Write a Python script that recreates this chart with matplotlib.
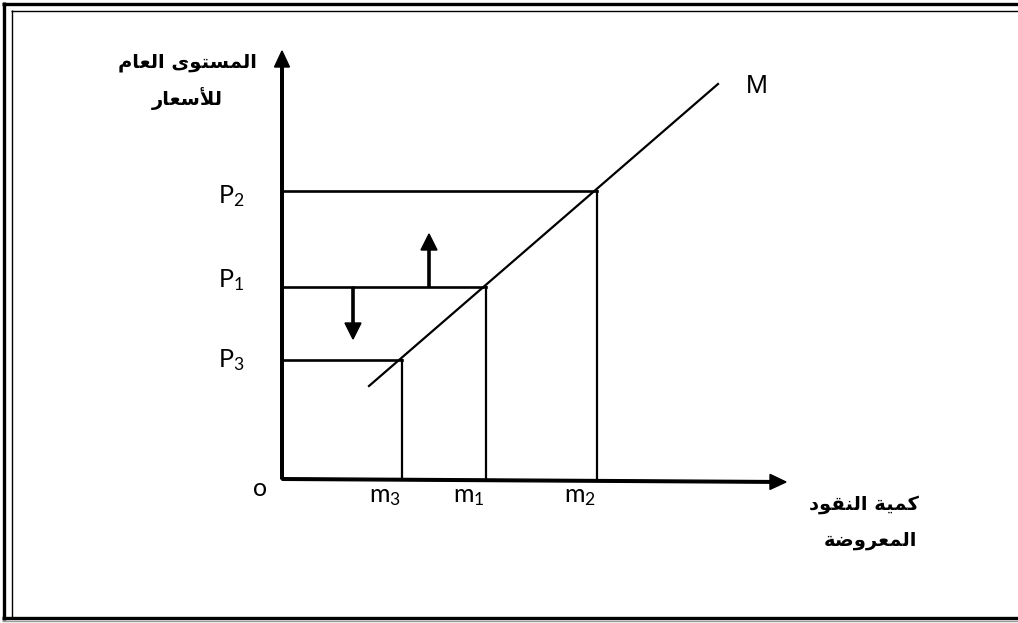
import matplotlib
matplotlib.use("Agg")
import matplotlib.pyplot as plt
from matplotlib.lines import Line2D

# price levels (vertical axis) and money supply levels (horizontal axis)
price_labels = ["P_3", "P_1", "P_2"]
price_levels = [119, 192, 288]
money_labels = ["m_3", "m_1", "m_2"]
money_levels = [120, 204, 315]

# money line M
M_x = [87, 436]
M_y = [93, 395]

# shift arrows at P1
shift_x = [147, 71]
shift_dy = [53, -52]

y_title = ["المستوى العام", "للأسعار"]
x_title = ["كمية النقود", "المعروضة"]

# --- minimal arabic shaping (matplotlib has no shaping/bidi) ---
DUAL = {
    "ل": (0xFEDD, 0xFEDE, 0xFEDF, 0xFEE0),
    "م": (0xFEE1, 0xFEE2, 0xFEE3, 0xFEE4),
    "س": (0xFEB1, 0xFEB2, 0xFEB3, 0xFEB4),
    "ت": (0xFE95, 0xFE96, 0xFE97, 0xFE98),
    "ع": (0xFEC9, 0xFECA, 0xFECB, 0xFECC),
    "ك": (0xFED9, 0xFEDA, 0xFEDB, 0xFEDC),
    "ي": (0xFEF1, 0xFEF2, 0xFEF3, 0xFEF4),
    "ن": (0xFEE5, 0xFEE6, 0xFEE7, 0xFEE8),
    "ق": (0xFED5, 0xFED6, 0xFED7, 0xFED8),
    "ض": (0xFEBD, 0xFEBE, 0xFEBF, 0xFEC0),
}
RIGHT = {
    "ا": (0xFE8D, 0xFE8E),
    "أ": (0xFE83, 0xFE84),
    "و": (0xFEED, 0xFEEE),
    "ى": (0xFEEF, 0xFEF0),
    "ر": (0xFEAD, 0xFEAE),
    "ة": (0xFE93, 0xFE94),
    "د": (0xFEA9, 0xFEAA),
}
LAMALEF = {"ا": (0xFEFB, 0xFEFC), "أ": (0xFEF7, 0xFEF8)}


def shape(text):
    units = []
    i = 0
    while i < len(text):
        c = text[i]
        if c == "ل" and i + 1 < len(text) and text[i + 1] in LAMALEF:
            units.append(("la", text[i + 1]))
            i += 2
            continue
        if c in DUAL:
            units.append(("d", c))
        elif c in RIGHT:
            units.append(("r", c))
        else:
            units.append(("x", c))
        i += 1
    out = []
    for k, (kind, c) in enumerate(units):
        prev_join = k > 0 and units[k - 1][0] == "d"
        next_join = kind == "d" and k + 1 < len(units) and units[k + 1][0] in ("d", "r", "la")
        if kind == "x":
            out.append(c)
        elif kind == "la":
            out.append(chr(LAMALEF[c][1 if prev_join else 0]))
        elif kind == "r":
            out.append(chr(RIGHT[c][1 if prev_join else 0]))
        else:
            f = DUAL[c]
            if prev_join and next_join:
                out.append(chr(f[3]))
            elif prev_join:
                out.append(chr(f[1]))
            elif next_join:
                out.append(chr(f[2]))
            else:
                out.append(chr(f[0]))
    # reverse to visual (right-to-left) order
    return "".join(out)[::-1]


def sub_label(lab):
    base, idx = lab.split("_")
    return r"$\mathrm{" + base + "}_{" + idx + "}$"


plt.rcParams["mathtext.fontset"] = "custom"
plt.rcParams["mathtext.rm"] = "Lato"
plt.rcParams["mathtext.it"] = "Lato:italic"

W, H = 1018, 623
ox, oy = 282, 479  # origin in pixels

fig = plt.figure(figsize=(W / 100, H / 100), dpi=100)
ax = fig.add_axes([0, 0, 1, 1])
ax.set_xlim(-ox, W - ox)
ax.set_ylim(-(H - oy), oy)
ax.axis("off")


# page border (double line)
def border(x0, y0, x1, y1, lw, color="black"):
    fig.add_artist(Line2D([x0 / W, x1 / W], [1 - y0 / H, 1 - y1 / H],
                          transform=fig.transFigure, lw=lw, color=color,
                          solid_capstyle="butt"))


border(3.5, 2, 3.5, 620, 2.4)
border(2, 3.5, W, 3.5, 2.4)
border(11.5, 10, 11.5, 617, 1.0)
border(11, 10.5, W, 10.5, 1.0)
border(2, 617.5, W, 617.5, 2.4)
border(2, 621, W, 621, 1.0, "#999999")

# axes with arrow heads
ax.arrow(0, 0, 0, 428, width=2.6, head_width=15, head_length=16,
         length_includes_head=True, fc="black", ec="black")
ax.arrow(0, 0, 504, -3, width=2.6, head_width=15, head_length=16,
         length_includes_head=True, fc="black", ec="black")

# guide lines from the axes to M
for m, p in zip(money_levels, price_levels):
    ax.plot([0, m], [p, p], color="black", lw=1.9)
    ax.plot([m, m], [0, p], color="black", lw=1.6)

# M line
ax.plot(M_x, M_y, color="black", lw=1.6)
ax.text(M_x[1] + 28, M_y[1] - 2, "M", fontsize=19, family="Liberation Sans",
        ha="left", va="center")

# up / down arrows
for sx, sd in zip(shift_x, shift_dy):
    ax.arrow(sx, price_levels[1], 0, sd, width=2.2, head_width=16, head_length=16,
             length_includes_head=True, fc="black", ec="black")

# labels
nudge = [0, 7, -5]
for lab, lvl, dy in zip(price_labels, price_levels, nudge):
    ax.text(-38, lvl + dy, sub_label(lab), fontsize=18, ha="right", va="center")
for lab, lvl in zip(money_labels, money_levels):
    ax.text(lvl - 17, -17, sub_label(lab), fontsize=18, ha="center", va="center")
ax.text(-22, -9, "o", fontsize=18, family="Lato", ha="center", va="center")

# arabic axis titles
for txt, y in zip(y_title, [417, 380]):
    ax.text(-95, y, shape(txt), fontsize=14, fontweight="bold",
            family="DejaVu Sans", ha="center", va="center")
for txt, x, y in zip(x_title, [582, 588], [-26, -62]):
    ax.text(x, y, shape(txt), fontsize=14, fontweight="bold",
            family="DejaVu Sans", ha="center", va="center")

fig.savefig("out.png", dpi=100)
